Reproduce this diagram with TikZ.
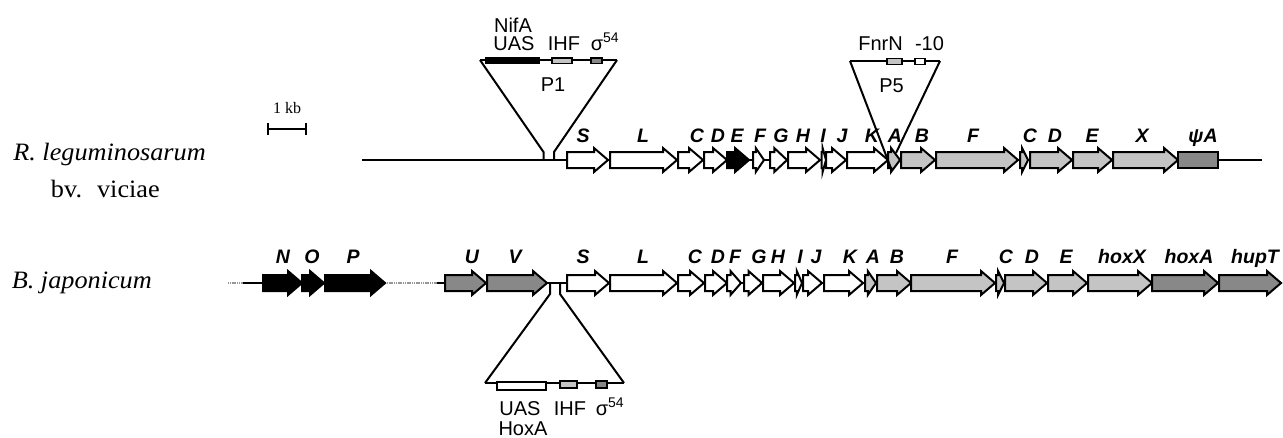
\documentclass[tikz,border=0pt]{standalone}
\usepackage{fontspec}
\setmainfont{Liberation Sans}
\newfontfamily\serfont{Liberation Serif}
\definecolor{lightg}{RGB}{196,196,196}
\definecolor{darkg}{RGB}{136,136,136}
\definecolor{dotg}{RGB}{150,150,150}
\newcommand\genearrow[4]{%
  \pgfmathsetmacro\gh{min(14,0.75*(#2-#1))}%
  \pgfmathsetmacro\gs{#2-\gh}%
  \draw[genestyle, fill=#4] (#1,#3-8) -- (\gs,#3-8) -- (\gs,#3-12) -- (#2,#3) -- (\gs,#3+12) -- (\gs,#3+8) -- (#1,#3+8) -- cycle;}
\begin{document}
\begin{tikzpicture}[x=1pt,y=-1pt,
  genestyle/.style={line width=2pt, line join=miter, draw=black},
  genelab/.style={font=\fontsize{19.5}{20}\selectfont\bfseries\itshape, inner sep=0pt, anchor=base},
  boxlab/.style={font=\fontsize{20}{22}\selectfont, inner sep=0pt, anchor=base},
  serlab/.style={font=\serfont\fontsize{25}{26}\selectfont, inner sep=0pt, anchor=base east, xscale=1.05},
  bb/.style={line width=2pt},
  inset/.style={line width=2pt, line join=miter},
  site/.style={line width=1.2pt, draw=black},
  dotline/.style={line width=2.5pt, draw=dotg, dash pattern=on 1.2pt off 0.6pt}]
\useasboundingbox (0,0) rectangle (1283,437);

% ---- left labels ----
\node[serlab] (rl) at (206,160) {\itshape R. leguminosarum};
\node[serlab] (bv) at (160,197) {bv.\hspace{6pt} viciae};
\node[serlab] (bj) at (152,288) {\itshape B. japonicum};

% ---- scale bar ----
\node[inner sep=0pt, anchor=base, font=\serfont\fontsize{16}{17}\selectfont] (kb) at (287,113) {1 kb};
\coordinate (kbl) at (268,129);
\coordinate (kbr) at (306,129);
\draw[line width=2pt] (kbl) -- (kbr);
\draw[line width=2pt] (268,123) -- (268,135) (306,123) -- (306,135);

% ---- row 1 backbone ----
\coordinate (r1s) at (362,160);
\coordinate (r1e) at (1262,160);
\draw[bb] (r1s) -- (r1e);

% ---- row 1 genes ----
\foreach \a/\b/\f in {567/608/white, 610/677/white, 678/703/white, 704/727/white, 727/749/black,
  753/764/white, 770/787/white, 788/820/white, 821.5/826/white, 826/846/white, 847/888/white,
  888/900/lightg, 901/935/lightg, 936/1018/lightg, 1020/1028/lightg, 1030/1072/lightg,
  1073/1112/lightg, 1113/1178/lightg}{\genearrow{\a}{\b}{160}{\f}}
\draw[genestyle, fill=darkg] (1178,152) rectangle (1218,168);

% ---- row 1 labels ----
\foreach \x/\t [count=\i] in {583/S, 643/L, 697/C, 718/D, 737/E, 760/F, 781/G, 803/H, 823/I, 842/J,
  872/K, 895/A, 922/B, 973/F, 1030/C, 1055/D, 1092/E, 1142/X, 1203/ψA}
  {\node[genelab] (ra\i) at (\x,142) {\t};}

% ---- P1 inset ----
\coordinate (p1a) at (480,60);
\coordinate (p1b) at (617,60);
\coordinate (p1c) at (543.5,152);
\coordinate (p1d) at (554,152);
\coordinate (p1e) at (543.5,160);
\coordinate (p1f) at (554,160);
\draw[inset] (p1a) -- (p1b);
\draw[inset] (p1a) -- (p1c) -- (p1e);
\draw[inset] (p1b) -- (p1d) -- (p1f);
\draw[site, fill=black] (486,57.5) rectangle (539,63.5);
\draw[site, fill=lightg] (552,58) rectangle (572,63.5);
\draw[site, fill=darkg] (591,58) rectangle (602,63.5);
\node[boxlab] (nifa) at (513,32) {NifA};
\node[boxlab] (uas1) at (514,50) {UAS};
\node[boxlab] (ihf1) at (564,50) {IHF};
\node[boxlab] (sig1) at (605,50) {σ\textsuperscript{54}};
\node[boxlab] (p1) at (553,91) {P1};

% ---- P5 inset ----
\coordinate (p5a) at (850,61);
\coordinate (p5b) at (940,61);
\coordinate (p5c) at (892,171);
\coordinate (p5d) at (896,153);
\draw[inset] (p5a) -- (p5b);
\draw[inset] (p5a) -- (p5c);
\draw[inset] (p5b) -- (p5d);
\draw[site, fill=lightg] (887,58.5) rectangle (902,64.5);
\draw[site, fill=white] (915,58.5) rectangle (925,64.5);
\node[boxlab] (fnrn) at (880.5,50.5) {FnrN};
\node[boxlab] (m10) at (929.5,50.5) {-10};
\node[boxlab] (p5) at (891.5,92) {P5};

% ---- row 2 backbone ----
\coordinate (d1a) at (228,283);
\coordinate (d1b) at (252,283);
\coordinate (l1a) at (243,283);
\coordinate (l1b) at (263,283);
\coordinate (d2a) at (385,283);
\coordinate (d2b) at (438,283);
\coordinate (l2a) at (437,283);
\coordinate (l2b) at (445,283);
\coordinate (l3a) at (547,283);
\coordinate (l3b) at (1282,283);
\draw[dotline] (d1a) -- (d1b);
\draw[bb] (l1a) -- (l1b);
\draw[dotline] (d2a) -- (d2b);
\draw[bb] (l2a) -- (l2b);
\draw[bb] (l3a) -- (l3b);

% ---- row 2 genes ----
\foreach \a/\b/\f in {263/302/black, 302/324/black, 325/385/black, 445/486/darkg, 487/547/darkg,
  567/609/white, 610/677/white, 678/704/white, 705/727/white, 727/741/white, 744/762/white,
  763/794/white, 795/802/white, 803/822/white, 824/863/white, 865/876/lightg, 877/911/lightg,
  911/995/lightg, 996/1004/lightg, 1005/1047/lightg, 1048/1087/lightg, 1088/1152/lightg,
  1152/1218/darkg, 1219/1281/darkg}{\genearrow{\a}{\b}{283}{\f}}

% ---- row 2 labels ----
\foreach \x/\t [count=\i] in {283/N, 312/O, 353/P, 472/U, 515/V, 583/S, 643/L, 695/C, 718/D, 735/F,
  759/G, 778/H, 800/I, 816/J, 850/K, 873/A, 897/B, 952/F, 1006/C, 1032/D, 1066/E, 1122/hoxX,
  1189/hoxA, 1255/hupT}
  {\node[genelab] (rb\i) at (\x,263) {\t};}

% ---- bottom inset ----
\coordinate (q1) at (550,283);
\coordinate (q2) at (560,283);
\coordinate (q3) at (550,294);
\coordinate (q4) at (560,294);
\coordinate (q5) at (485,383);
\coordinate (q6) at (624,383);
\draw[inset] (q1) -- (q3) -- (q5);
\draw[inset] (q2) -- (q4) -- (q6);
\draw[inset] (q5) -- (q6);
\draw[site, fill=white] (497,382) rectangle (546,390);
\draw[site, fill=lightg] (560,381) rectangle (577,388);
\draw[site, fill=darkg] (596,381) rectangle (607,388);
\node[boxlab] (uas2) at (520,415) {UAS};
\node[boxlab] (ihf2) at (570,415) {IHF};
\node[boxlab] (sig2) at (610,415) {σ\textsuperscript{54}};
\node[boxlab] (hoxa) at (523,435) {HoxA};
\end{tikzpicture}
\end{document}
